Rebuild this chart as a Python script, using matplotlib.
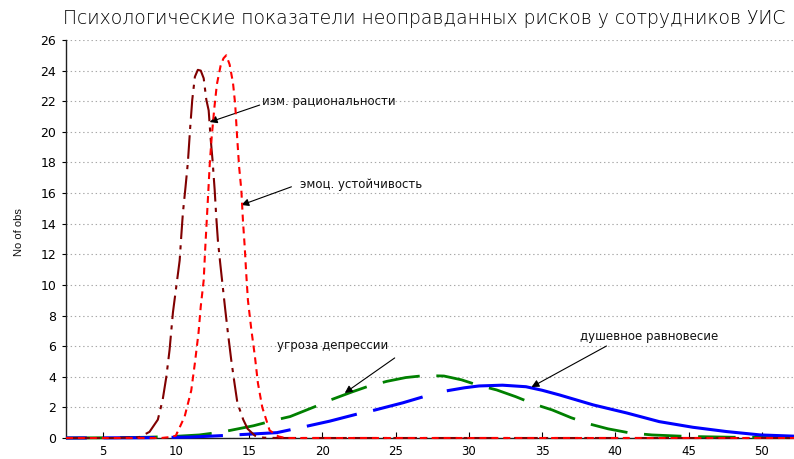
import numpy as np
import matplotlib
matplotlib.use("Agg")
import matplotlib.pyplot as plt

# ---------- data ------------------------------------------------------------

title = "Психологические показатели неоправданных рисков у сотрудников УИС"
y_label = "No of obs"

x_ticks = [5, 10, 15, 20, 25, 30, 35, 40, 45, 50]
y_ticks = list(range(0, 27, 2))

# изм. рациональности (dark red, dash-dot)
rat_x = [2.5, 6.0, 7.5, 8.2, 8.77, 9.1, 9.35, 9.57, 9.8, 10.03, 10.26, 10.37, 10.48,
         10.66, 10.82, 10.98, 11.12, 11.3, 11.5, 11.7, 11.9, 12.08, 12.24, 12.38,
         12.5, 12.65, 12.76, 12.87, 13.03, 13.2, 13.37, 13.55, 13.78, 14.0, 14.2,
         14.6, 14.9, 15.4, 16.0, 17.0, 52.2]
rat_y = [0, 0, 0.05, 0.4, 1.2, 2.5, 4.0, 5.75, 8.2, 9.9, 11.6, 13.2, 14.7,
         16.4, 18.0, 20.3, 22.1, 23.6, 24.05, 24.0, 23.5, 22.1, 21.4, 19.5,
         18.2, 16.2, 14.4, 12.9, 11.4, 9.9, 8.4, 6.9, 5.1, 3.6, 2.3,
         1.2, 0.6, 0.15, 0.02, 0, 0]

# эмоц. устойчивость (red, short dashes)
emo_x = [2.5, 9.0, 9.5, 10.0, 10.6, 11.05, 11.3, 11.55, 11.7, 11.9, 12.0, 12.12,
         12.22, 12.32, 12.45, 12.62, 12.8, 13.05, 13.25, 13.44, 13.67, 13.9, 14.05,
         14.18, 14.32, 14.47, 14.58, 14.7, 14.8, 14.92, 15.15, 15.4, 15.6, 15.9,
         16.4, 17.0, 17.5, 52.2]
emo_y = [0, 0, 0.05, 0.15, 1.4, 3.1, 4.9, 6.9, 8.6, 10.3, 12.3, 14.4,
         16.2, 18.0, 19.7, 21.5, 23.1, 24.3, 24.8, 25.0, 24.4, 23.2, 21.8,
         19.7, 17.7, 16.2, 14.2, 12.5, 10.8, 9.0, 7.1, 5.3, 3.6, 2.0,
         0.5, 0.1, 0, 0]

# угроза депрессии (green, long dashes)
dep_x = [2.5, 6.0, 8.0, 9.8, 11.6, 13.2, 15.3, 16.9, 17.8, 19.5, 20.6, 22.0, 23.2,
         24.4, 25.7, 27.0, 28.3, 29.5, 30.6, 31.9, 33.2, 34.5, 35.7, 37.0, 38.3,
         39.5, 41.0, 42.5, 45.0, 48.0, 52.2]
dep_y = [0, 0.02, 0.05, 0.1, 0.2, 0.4, 0.8, 1.2, 1.4, 2.05, 2.5, 3.0, 3.4,
         3.7, 3.95, 4.08, 4.05, 3.8, 3.46, 3.14, 2.7, 2.2, 1.83, 1.32, 0.9,
         0.6, 0.33, 0.2, 0.1, 0.05, 0.02]

# душевное равновесие (blue)
bal_x = [2.5, 8.0, 11.0, 13.0, 15.0, 16.9, 18.7, 20.5, 22.4, 23.6, 25.5, 27.3,
         28.6, 29.7, 30.7, 32.3, 33.9, 35.0, 36.2, 38.5, 40.8, 43.0, 45.3, 47.6,
         49.9, 52.2]
bal_y = [0, 0.02, 0.06, 0.15, 0.25, 0.35, 0.72, 1.1, 1.57, 1.83, 2.3, 2.81,
         3.1, 3.28, 3.4, 3.45, 3.35, 3.12, 2.81, 2.16, 1.63, 1.07, 0.7, 0.42,
         0.2, 0.12]

# ---------- figure -----------------------------------------------------------

plt.rcParams["lines.scale_dashes"] = False

fig = plt.figure(figsize=(7.94, 4.59), dpi=100)
ax = fig.add_axes([66 / 794, 1 - 438 / 459, 1 - 66 / 794, (438 - 40) / 459])
ax.set_xlim(2.5, 52.2)
ax.set_ylim(0, 26)

ax.plot(rat_x, rat_y, color="#800000", lw=1.5,
        dashes=(17, 4.5, 3, 4.5), clip_on=False, zorder=4)
ax.plot(emo_x, emo_y, color="#ff0000", lw=1.5,
        dashes=(5, 3.6), clip_on=False, zorder=4)
ax.plot(dep_x, dep_y, color="#008000", lw=2.0,
        dashes=(27, 12), clip_on=False, zorder=3)

bx = np.array(bal_x)
by = np.array(bal_y)
left = bx <= 27.3
right = bx >= 28.6
ax.plot(bx[left], by[left], color="#0000ff", lw=2.2,
        linestyle=(22, (37, 12)), clip_on=False, zorder=3)
ax.plot(bx[right], by[right], color="#0000ff", lw=2.2,
        clip_on=False, zorder=3)

# grid / ticks / spines
ax.set_yticks(y_ticks)
ax.set_xticks(x_ticks)
ax.yaxis.grid(True, color="#a8a8a8", linestyle=(0, (1, 2)), lw=0.8)
ax.set_axisbelow(True)
ax.tick_params(axis="y", direction="out", length=3, width=0.8, pad=4,
               labelsize=9)
ax.tick_params(axis="x", direction="in", length=4, width=0.8, pad=5,
               labelsize=8.5)
for s in ["top", "right"]:
    ax.spines[s].set_visible(False)
for s in ["left", "bottom"]:
    ax.spines[s].set_color("#202020")
    ax.spines[s].set_linewidth(1.0)

fig.text(19 / 794, 1 - 232 / 459, y_label, rotation=90, ha="center",
         va="center", fontsize=8, family="Liberation Sans", color="#111111")

fig.text(0.5346, 1 - 19 / 459, title, ha="center", va="center",
         fontsize=13.5, family="DejaVu Sans", weight="light", color="#000000")

# ---------- annotations ------------------------------------------------------

arrow = dict(arrowstyle="-|>", color="black", lw=0.8, mutation_scale=11,
             shrinkA=0, shrinkB=0)
notes = [
    ("изм. рациональности", (15.86, 22.0), (15.72, 21.75), (12.31, 20.64)),
    ("эмоц. устойчивость", (18.45, 16.59), (17.89, 16.41), (14.47, 15.22)),
    ("угроза депрессии", (16.88, 6.07), (24.94, 5.23), (21.53, 2.94)),
    ("душевное равновесие", (37.58, 6.62), (39.40, 6.01), (34.28, 3.33)),
]
for label, txt_pos, tail, tip in notes:
    ax.text(txt_pos[0], txt_pos[1], label, ha="left", va="center",
            fontsize=8.5, color="#111111")
    ax.annotate("", xy=tip, xytext=tail, arrowprops=arrow)

fig.savefig("out.png", dpi=100)
